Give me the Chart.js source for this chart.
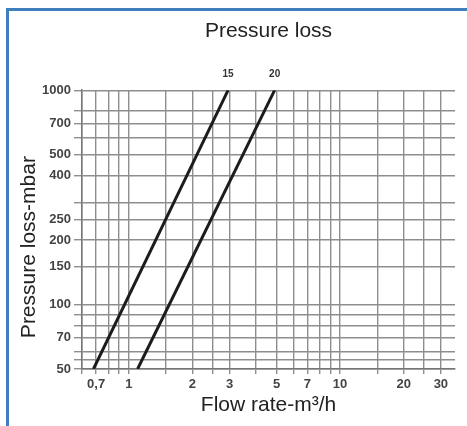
<!DOCTYPE html>
<html>
<head>
<meta charset="utf-8">
<title>Pressure loss</title>
<script src="https://cdn.jsdelivr.net/npm/chart.js@4.4.1/dist/chart.umd.min.js"></script>
<style>
  html, body { margin: 0; padding: 0; background: #fff; }
  #wrap { position: relative; width: 467px; height: 426px; overflow: hidden; }
  #frame { position: absolute; left: 6px; top: 8px; width: 480px; height: 440px; border: 3px solid #3f7fc0; box-sizing: border-box; }
  #chart { position: absolute; left: 0; top: 0; }
</style>
</head>
<body>
<div id="wrap">
  <div id="frame"></div>
  <canvas id="chart" width="467" height="426"></canvas>
</div>
<script>
// flow rate (m3/h) at 50 and 1000 mbar for each size
const pressureEnds = [50, 1000];
const flow15 = [0.68, 2.95];
const flow20 = [1.1, 4.9];
const seriesNames = ['15', '20'];

// grid lines and labelled ticks
const flowGrid = [0.6, 0.7, 0.8, 0.9, 1, 1.5, 2, 2.5, 3, 4, 5, 6, 7, 8, 9, 10, 15, 20, 25, 30];
const flowTicks = [0.7, 1, 2, 3, 5, 7, 10, 20, 30];
const flowTickText = ['0,7', '1', '2', '3', '5', '7', '10', '20', '30'];
const pressureGrid = [50, 55, 60, 70, 80, 90, 100, 150, 200, 250, 300, 400, 500, 600, 700, 800, 1000];
const pressureTicks = [50, 70, 100, 150, 200, 250, 400, 500, 700, 1000];

const FONT = "'Liberation Sans', Arial, sans-serif";
const GRID = '#8e8e8e';

const toPoints = (xs, ys) => xs.map((x, i) => ({ x: x, y: ys[i] }));

// size label above the top end of each curve
const endLabels = {
    id: 'endLabels',
    afterDatasetsDraw(chart) {
        const ctx = chart.ctx;
        ctx.save();
        ctx.font = "bold 10px " + FONT;
        ctx.fillStyle = '#333';
        ctx.textAlign = 'center';
        ctx.textBaseline = 'middle';
        chart.data.datasets.forEach((ds, i) => {
            const pts = chart.getDatasetMeta(i).data;
            const last = pts[pts.length - 1];
            ctx.fillText(ds.label, last.x, last.y - 16);
        });
        ctx.restore();
    }
};

new Chart(document.getElementById('chart'), {
    type: 'scatter',
    data: {
        datasets: [
            { label: seriesNames[0], data: toPoints(flow15, pressureEnds) },
            { label: seriesNames[1], data: toPoints(flow20, pressureEnds) }
        ].map(ds => Object.assign(ds, {
            showLine: true,
            borderColor: '#1c1c1c',
            borderWidth: 3,
            pointRadius: 0,
            fill: false
        }))
    },
    options: {
        responsive: false,
        animation: false,
        layout: { padding: { left: 0, right: 12, top: 0, bottom: 0 } },
        plugins: {
            legend: { display: false },
            tooltip: { enabled: false },
            title: {
                display: true,
                text: 'Pressure loss',
                fullSize: false,
                color: '#222',
                font: { family: FONT, size: 21, weight: 'normal' },
                padding: { top: 19, bottom: 46 }
            }
        },
        scales: {
            x: {
                type: 'logarithmic',
                min: 0.6,
                max: 35,
                afterBuildTicks: s => { s.ticks = flowGrid.map(v => ({ value: v })); },
                afterFit: s => { s.height = 57; },
                ticks: {
                    autoSkip: false,
                    maxRotation: 0,
                    padding: 3,
                    color: '#444',
                    font: { family: FONT, size: 13, weight: 'bold' },
                    callback: v => {
                        const i = flowTicks.indexOf(v);
                        return i < 0 ? '' : flowTickText[i];
                    }
                },
                grid: { color: GRID, lineWidth: 1.4, tickColor: GRID, tickLength: 5 },
                border: { display: true, color: '#777', width: 1.5 },
                title: {
                    display: true,
                    text: 'Flow rate-m³/h',
                    color: '#222',
                    font: { family: FONT, size: 21, weight: 'normal' },
                    padding: { bottom: 8 }
                }
            },
            y: {
                type: 'logarithmic',
                min: 50,
                max: 1000,
                afterBuildTicks: s => { s.ticks = pressureGrid.map(v => ({ value: v })); },
                afterFit: s => { s.width = 82; },
                ticks: {
                    autoSkip: false,
                    padding: 3,
                    color: '#444',
                    font: { family: FONT, size: 13, weight: 'bold' },
                    callback: v => pressureTicks.includes(v) ? String(v) : ''
                },
                grid: { color: GRID, lineWidth: 1.4, tickColor: GRID, tickLength: 8 },
                border: { display: true, color: '#777', width: 1.5 },
                title: {
                    display: true,
                    // trailing spaces push the centred text down the axis
                    text: 'Pressure loss-mbar      ',
                    color: '#222',
                    font: { family: FONT, size: 21, weight: 'normal' },
                    padding: { top: 17 }
                }
            }
        }
    },
    plugins: [endLabels]
});
</script>
</body>
</html>
